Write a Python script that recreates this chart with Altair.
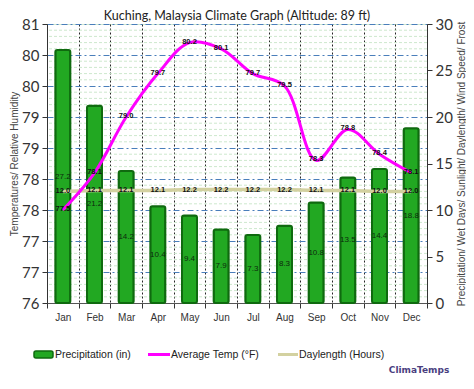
import altair as alt
import pandas as pd

months = ["Jan", "Feb", "Mar", "Apr", "May", "Jun", "Jul", "Aug", "Sep", "Oct", "Nov", "Dec"]
avg_temp = [77.5, 78.1, 79.0, 79.7, 80.2, 80.1, 79.7, 79.5, 78.3, 78.8, 78.4, 78.1]
precip = [27.2, 21.2, 14.2, 10.4, 9.4, 7.9, 7.3, 8.3, 10.8, 13.5, 14.4, 18.8]
daylength = [12.0, 12.1, 12.1, 12.1, 12.2, 12.2, 12.2, 12.2, 12.1, 12.1, 12.0, 12.0]
temp_ticks = [76, 76.5, 77, 77.5, 78, 78.5, 79, 79.5, 80, 80.5]
precip_ticks = [0, 5, 10, 15, 20, 25, 30]
minor_grid = [round(76 + 0.1 * i, 1) for i in range(1, 45) if i % 5]
title_text = "Kuching, Malaysia Climate Graph (Altitude: 89 ft)"

df = pd.DataFrame({"month": months, "temp": avg_temp, "precip": precip, "day": daylength})
minor_df = pd.DataFrame({"v": minor_grid})

FONT = "Liberation Sans"
TEMP_DOMAIN = [76, 80.5]
PREC_DOMAIN = [0, 30]
H = 279

x_axis = alt.Axis(
    title=None, labelAngle=0, labelFont=FONT, labelFontSize=10, labelColor="#333",
    grid=True, gridColor="#000", gridDash=[2, 2], gridOpacity=0.85, tickBand="extent",
    domainColor="#555", tickColor="#333", tickSize=5, labelPadding=4,
)
x_enc = alt.X("month:N", sort=months, scale=alt.Scale(paddingInner=0, paddingOuter=0), axis=x_axis)

temp_scale = alt.Scale(domain=TEMP_DOMAIN, zero=False, nice=False)
prec_scale = alt.Scale(domain=PREC_DOMAIN, zero=False, nice=False)

left_axis = alt.Axis(
    orient="left", values=temp_ticks, format=".0f", labelFont="Lato", labelFontSize=15,
    labelColor="#333", grid=True, gridColor="#4a7ebb", gridDash=[6, 3, 2, 3], gridWidth=1,
    domainColor="#333", tickColor="#333", tickSize=5, labelPadding=3,
    title="Temperatures/ Relative Humidity", titleFont=FONT, titleFontSize=10,
    titleFontWeight="normal", titleColor="#444", titleX=-33, titleY=H / 2,
    titleAngle=270, titleBaseline="middle", titleAlign="center",
)
right_axis = alt.Axis(
    orient="right", values=precip_ticks, labelFont="Lato", labelFontSize=15, labelColor="#333",
    grid=False, domainColor="#333", tickColor="#333", tickSize=5, labelPadding=3,
    title="Precipitation/ Wet Days/ Sunlight/ Daylength/ Wind Speed/ Frost",
    titleFont=FONT, titleFontSize=10, titleFontWeight="normal", titleColor="#444",
    titleX=34, titleY=H / 2, titleAngle=270, titleBaseline="middle", titleAlign="center",
)

base = alt.Chart(df)

minor = alt.Chart(minor_df).mark_rule(color="#cde8cd", strokeDash=[3, 2], strokeWidth=1).encode(
    y=alt.Y("v:Q", scale=temp_scale, axis=None)
)

bars = base.mark_bar(size=15, color="#22a822", stroke="#0f6a0f", strokeWidth=2, cornerRadius=2).encode(
    x=x_enc, y=alt.Y("precip:Q", scale=prec_scale, axis=right_axis)
)

bar_labels = base.transform_calculate(half="datum.precip / 2").mark_text(
    font=FONT, fontSize=8, color="#0d2a0d"
).encode(
    x=x_enc, y=alt.Y("half:Q", scale=prec_scale, axis=None), text=alt.Text("precip:Q", format=".1f")
)

day_line = base.mark_line(color="#d3d1a0", strokeWidth=3.5).encode(
    x=x_enc, y=alt.Y("day:Q", scale=prec_scale, axis=None)
)

day_labels = base.mark_text(font=FONT, fontSize=7.5, fontWeight="bold", color="#111").encode(
    x=x_enc, y=alt.Y("day:Q", scale=prec_scale, axis=None), text=alt.Text("day:Q", format=".1f")
)

temp_line = base.mark_line(color="#ff00ff", strokeWidth=3, interpolate="catmull-rom").encode(
    x=x_enc, y=alt.Y("temp:Q", scale=temp_scale, axis=left_axis)
)

temp_labels = base.mark_text(font=FONT, fontSize=7.5, fontWeight="bold", color="#111", dy=-1).encode(
    x=x_enc, y=alt.Y("temp:Q", scale=temp_scale, axis=None), text=alt.Text("temp:Q", format=".1f")
)

one = alt.Data(values=[{}])
title_mark = alt.Chart(one).mark_text(text=title_text, align="center", baseline="alphabetic",
                                      font="Lato", fontSize=12.5, color="#222").encode(
    x=alt.value(190), y=alt.value(-4))
leg_y = H + 51.5
leg_rect = alt.Chart(one).mark_rect(fill="#22a822", stroke="#0f6a0f", strokeWidth=1.5, cornerRadius=2).encode(
    x=alt.value(-13), x2=alt.value(6), y=alt.value(leg_y - 3.5), y2=alt.value(leg_y + 3.5)
)
leg_t1 = alt.Chart(one).mark_text(text="Precipitation (in)", align="left", baseline="middle",
                                  font=FONT, fontSize=10.5, color="#222").encode(
    x=alt.value(8), y=alt.value(leg_y))
leg_l2 = alt.Chart(one).mark_rule(color="#ff00ff", strokeWidth=3).encode(
    x=alt.value(101), x2=alt.value(123), y=alt.value(leg_y))
leg_t2 = alt.Chart(one).mark_text(text="Average Temp (°F)", align="left", baseline="middle",
                                  font=FONT, fontSize=10.5, color="#222").encode(
    x=alt.value(124), y=alt.value(leg_y))
leg_l3 = alt.Chart(one).mark_rule(color="#d3d1a0", strokeWidth=3).encode(
    x=alt.value(231), x2=alt.value(251), y=alt.value(leg_y))
leg_t3 = alt.Chart(one).mark_text(text="Daylength (Hours)", align="left", baseline="middle",
                                  font=FONT, fontSize=10.5, color="#222").encode(
    x=alt.value(252), y=alt.value(leg_y))
brand = alt.Chart(one).mark_text(text="ClimaTemps", align="center", baseline="middle",
                                 font="DejaVu Sans", fontSize=9, fontWeight="bold", color="#4a3f7f").encode(
    x=alt.value(372), y=alt.value(leg_y + 15.5))

chart = alt.layer(
    minor, bars, bar_labels, day_line, day_labels, temp_line, temp_labels,
    title_mark, leg_rect, leg_t1, leg_l2, leg_t2, leg_l3, leg_t3, brand,
).resolve_scale(y="independent").properties(
    width=380, height=H,
    autosize=alt.AutoSizeParams(type="none"),
    padding={"left": 39, "top": 16, "right": 39, "bottom": 80},
).configure_view(stroke="#cfe8cf", strokeWidth=1)

chart.save("out.html", embed_options={"renderer": "svg", "actions": False})
